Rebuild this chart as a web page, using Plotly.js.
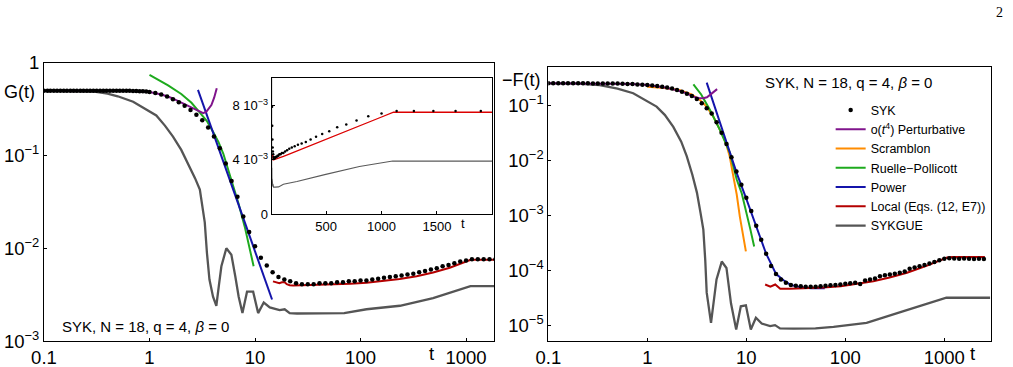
<!DOCTYPE html>
<html><head><meta charset="utf-8">
<script src="https://cdn.plot.ly/plotly-3.0.1.min.js"></script>
<style>html,body{margin:0;padding:0;background:#fff;}#chart{width:1013px;height:367px;}</style>
</head><body><div id="chart"></div>
<script>
// ---------- Left panel: G(t) ----------
const leftSykT = [0.1,0.108,0.115,0.124,0.133,0.143,0.154,0.165,0.178,0.191,0.205,0.221,0.237,0.255,0.274,0.294,0.316,0.34,0.365,0.392,0.422,0.453,0.487,0.523,0.562,0.604,0.649,0.698,0.75,0.806,0.866,0.931,1.0,1.136,1.292,1.468,1.668,1.896,2.154,2.448,2.783,3.162,3.594,4.084,4.642,5.275,5.995,6.813,7.743,8.8,10,11.36,12.92,14.68,16.68,18.96,21.54,24.48,27.83,31.62,35.94,40.84,46.42,52.75,59.95,68.13,77.43,88,100,113.6,129.2,146.8,166.8,189.6,215.4,244.8,278.3,316.2,359.4,408.4,464.2,527.5,599.5,681.3,774.3,880,1000,1136,1292,1468,1668,1896];
const leftSykG = [0.5,0.5,0.5,0.5,0.5,0.5,0.5,0.5,0.5,0.5,0.5,0.5,0.5,0.5,0.5,0.5,0.5,0.5,0.5,0.5,0.5,0.5,0.5,0.499,0.499,0.499,0.498,0.497,0.496,0.494,0.492,0.489,0.485,0.472,0.455,0.432,0.405,0.375,0.345,0.31,0.275,0.24,0.2,0.16,0.12,0.082,0.053,0.036,0.022,0.015,0.0105,0.0079,0.0065,0.0055,0.0049,0.0046,0.0044,0.0042,0.0041,0.0041,0.0041,0.0042,0.0042,0.0042,0.0043,0.0043,0.0044,0.0044,0.0045,0.0045,0.0046,0.0047,0.0048,0.0049,0.005,0.0051,0.0052,0.0053,0.0055,0.0057,0.0059,0.0061,0.0064,0.0066,0.0069,0.0072,0.0074,0.0076,0.0076,0.0076,0.0076,0.0076];

const leftPertT = [0.1,0.3,0.5,0.7,1.0,1.3,1.6,2.0,2.4,2.78,3.23,3.46,3.86,4.1,4.34];
const leftPertG = [0.5,0.5,0.499,0.496,0.485,0.455,0.42,0.37,0.336,0.31,0.286,0.297,0.35,0.42,0.53];

const leftRuelleT = [1,1.5,2,2.5,3,3.5,4,4.5,5,6,7,8,9,9.7];
const leftRuelleG = [0.74,0.57,0.46,0.37,0.29,0.235,0.18,0.14,0.105,0.055,0.03,0.017,0.0095,0.0064];

const leftPowerT = [2.88,5,10,14.5];
const leftPowerG = [0.51,0.087,0.0092,0.0028];

const leftLocalT = [14.8,16,17,18,19.1,20,21.3,23,30,50,80,114,160,235,340,487,700,900,1000,1108,1300,1600,2000];
const leftLocalG = [0.0044,0.0043,0.0042,0.0043,0.0043,0.0041,0.004,0.00398,0.004,0.00405,0.00414,0.00425,0.0044,0.00465,0.005,0.00547,0.00617,0.00682,0.00715,0.0075,0.0075,0.0075,0.0075];

const leftGueT = [0.1,0.2,0.3,0.4,0.5,0.7,0.9,1.16,1.4,1.67,2.0,2.4,2.7,3.0,3.34,3.5,3.7,4.0,4.3,4.55,4.8,5.35,5.97,6.5,7.0,7.6,8.4,9.6,10.7,12.1,13.8,15.5,17.1,19.1,21.3,25,40,70,114,236,487,800,1100,2000];
const leftGueG = [0.5,0.499,0.49,0.465,0.435,0.38,0.32,0.27,0.21,0.16,0.115,0.076,0.057,0.043,0.019,0.009,0.0046,0.003,0.0024,0.004,0.0064,0.01,0.0085,0.005,0.003,0.002,0.0034,0.0034,0.002,0.0026,0.0023,0.00222,0.00215,0.0022,0.002,0.00198,0.00198,0.002,0.0022,0.0024,0.0029,0.0035,0.0039,0.0039];

// ---------- Right panel: -F(t) ----------
const rightSykT = [0.1,0.112,0.126,0.141,0.158,0.178,0.2,0.224,0.251,0.282,0.316,0.355,0.398,0.447,0.501,0.562,0.631,0.708,0.794,0.891,1,1.122,1.259,1.413,1.585,1.778,1.995,2.239,2.512,2.818,3.162,3.548,3.981,4.467,5.012,5.623,6.31,7.079,7.943,8.913,10,11.22,12.59,14.13,15.85,17.78,19.95,22.39,25.12,28.18,31.62,35.48,39.81,44.67,50.12,56.23,63.1,70.79,79.43,89.13,100,112.2,125.9,141.3,158.5,177.8,199.5,223.9,251.2,281.8,316.2,354.8,398.1,446.7,501.2,562.3,631,707.9,794.3,891.3,1000,1122,1259,1413,1585,1778,1995,2239,2512];
const rightSykF = [0.255,0.255,0.255,0.255,0.255,0.255,0.255,0.255,0.255,0.254,0.254,0.254,0.253,0.253,0.252,0.251,0.249,0.247,0.244,0.241,0.237,0.233,0.228,0.222,0.215,0.205,0.193,0.18,0.165,0.15,0.132,0.11,0.09,0.072,0.05,0.032,0.02,0.0115,0.0063,0.0036,0.0021,0.0012,6.5e-4,3.6e-4,2.0e-4,1.2e-4,8.5e-5,6.8e-5,5.9e-5,5.4e-5,5.2e-5,5.1e-5,5.0e-5,5.0e-5,5.0e-5,5.1e-5,5.2e-5,5.3e-5,5.4e-5,5.5e-5,5.7e-5,5.8e-5,5.9e-5,5.6e-5,6.5e-5,6.8e-5,7.1e-5,7.8e-5,8.1e-5,8.4e-5,8.6e-5,9.0e-5,9.5e-5,1.06e-4,1.12e-4,1.18e-4,1.24e-4,1.32e-4,1.42e-4,1.52e-4,1.62e-4,1.66e-4,1.63e-4,1.62e-4,1.63e-4,1.62e-4,1.61e-4,1.62e-4,1.6e-4];

const rightPertT = [0.1,0.3,0.5,0.7,1,1.5,2,2.5,2.92,3.3,3.68,4.0,4.3,4.7,5.07];
const rightPertF = [0.255,0.254,0.252,0.248,0.238,0.215,0.19,0.168,0.146,0.138,0.136,0.142,0.157,0.178,0.2];

const rightScrT = [1,1.5,2.14,2.8,3.4,4,4.64,5.3,5.86,6.3,6.8,7.4,8.0,8.6,9.2,9.9];
const rightScrF = [0.22,0.21,0.19,0.16,0.127,0.095,0.063,0.04,0.027,0.019,0.0118,0.0051,0.0024,9.5e-4,4.8e-4,2.2e-4];

const rightRuelleT = [2.92,3.5,4.3,5.42,6.84,8,9,10.1,11,12];
const rightRuelleF = [0.245,0.16,0.083,0.036,0.0136,0.0045,0.0025,0.0011,5.5e-4,2.7e-4];

const rightPowerT = [3.98,5,6.3,8,10,12.6,15.85,20,24,28,35,45,62];
const rightPowerF = [0.263,0.077,0.021,0.0059,0.002,6.5e-4,2.0e-4,8.5e-5,6.5e-5,5.4e-5,4.9e-5,4.7e-5,4.7e-5];

const rightLocalT = [15.5,17.5,19.6,22,27.6,40,60,90,130,192,280,420,660,900,1070,1200,2570];
const rightLocalF = [5.5e-5,5.0e-5,5.5e-5,4.6e-5,4.6e-5,4.7e-5,4.85e-5,5.1e-5,5.6e-5,6.3e-5,7.4e-5,9.0e-5,1.2e-4,1.5e-4,1.7e-4,1.75e-4,1.75e-4];

const rightGueT = [0.1,0.2,0.33,0.5,0.72,1.0,1.24,1.5,1.83,2.2,2.5,2.85,3.17,3.45,3.68,3.85,3.98,4.4,5.0,5.65,6.3,7.0,7.9,8.8,9.9,11.1,12.5,14.3,17.4,19.5,21.9,30,50,76,164,354,660,1050,2900];
const rightGueF = [0.255,0.253,0.237,0.205,0.168,0.12,0.096,0.068,0.041,0.022,0.012,0.0055,0.0026,0.0011,5.5e-4,1.5e-4,3.9e-5,1.1e-5,6.8e-5,1.44e-4,1.1e-4,2.5e-5,8.3e-6,2.2e-5,2.3e-5,8.3e-6,1.36e-5,1.07e-5,9.6e-6,1.0e-5,8.7e-6,8.6e-6,8.7e-6,9.3e-6,1.1e-5,1.7e-5,2.45e-5,3.15e-5,3.15e-5];

// tick labels
const xLogTicks = [0.1,1,10,100,1000];
const xLogText = ['0.1','1','10','100','1000'];
const yLeftTicks = [0.001,0.01,0.1,1];
const yLeftText = ['10<sup>−3</sup>','10<sup>−2</sup>','10<sup>−1</sup>','1'];
const yRightTicks = [1e-5,1e-4,1e-3,1e-2,1e-1];
const yRightText = ['10<sup>−5</sup>','10<sup>−4</sup>','10<sup>−3</sup>','10<sup>−2</sup>','10<sup>−1</sup>'];
const insetXTicks = [500,1000,1500];
const insetYTicks = [0,0.004,0.008];
const insetYText = ['0','4 10<sup>−3</sup>','8 10<sup>−3</sup>'];

const C = {purple:'rgb(128,20,140)', orange:'rgb(255,140,0)', green:'rgb(30,170,30)', blue:'rgb(20,20,170)', red:'rgb(180,0,0)', gray:'rgb(85,85,85)'};

function line(x,y,color,w,xa,ya,name,rank,show){
  return {x:x,y:y,type:'scatter',mode:'lines',line:{color:color,width:w},xaxis:xa,yaxis:ya,name:name,legendrank:rank,showlegend:!!show,hoverinfo:'skip'};
}
function dots(x,y,size,xa,ya,show){
  return {x:x,y:y,type:'scatter',mode:'markers',marker:{color:'black',size:size},xaxis:xa,yaxis:ya,name:'SYK',legendrank:1,showlegend:!!show,hoverinfo:'skip'};
}

const traces = [
  // left
  line(leftGueT,leftGueG,C.gray,2.3,'x','y','SYKGUE',7),
  line(leftRuelleT,leftRuelleG,C.green,2,'x','y','Ruelle−Pollicott',4),
  line(leftPowerT,leftPowerG,C.blue,2,'x','y','Power',5),
  line(leftPertT,leftPertG,C.purple,2,'x','y','pert',2),
  line(leftLocalT,leftLocalG,C.red,2,'x','y','Local',6),
  dots(leftSykT,leftSykG,4.5,'x','y'),
  // inset
  line(leftGueT,leftGueG,'rgb(90,90,90)',1.1,'x3','y3','g',7),
  line(leftLocalT,leftLocalG,'rgb(220,0,0)',1.3,'x3','y3','l',6),
  dots(leftSykT,leftSykG,2.5,'x3','y3'),
  // right
  line(rightGueT,rightGueF,C.gray,2.3,'x2','y2','SYKGUE',7,true),
  line(rightScrT,rightScrF,C.orange,2,'x2','y2','Scramblon',3,true),
  line(rightRuelleT,rightRuelleF,C.green,2,'x2','y2','Ruelle−Pollicott',4,true),
  line(rightPowerT,rightPowerF,C.blue,2,'x2','y2','Power',5,true),
  line(rightPertT,rightPertF,C.purple,2,'x2','y2','o(<i>t</i><sup>4</sup>) Perturbative',2,true),
  line(rightLocalT,rightLocalF,C.red,2,'x2','y2','Local (Eqs. (12, E7))',6,true),
  dots(rightSykT,rightSykF,4.5,'x2','y2',true)
];

const F = 'Liberation Sans, Arial, sans-serif';
const axBase = {showline:true, mirror:true, linecolor:'black', linewidth:1, showgrid:false, zeroline:false, ticks:'inside', ticklen:3, tickcolor:'black', tickfont:{family:F,size:18.5,color:'black'}};

function ann(text,x,y,size,fam){
  return {text:text, xref:'paper', yref:'paper', x:x, y:y, xanchor:'center', yanchor:'middle', showarrow:false, font:{family:fam||F,size:size,color:'black'}};
}

const layout = {
  width:1013, height:367, margin:{l:0,r:0,t:0,b:0},
  paper_bgcolor:'white', plot_bgcolor:'rgba(0,0,0,0)', font:{family:F,color:'black'},
  showlegend:true,
  legend:{x:0.82, y:0.74, xanchor:'left', yanchor:'top', font:{family:F,size:12.5,color:'black'}, bgcolor:'rgba(0,0,0,0)', traceorder:'normal', itemwidth:30, tracegroupgap:0},
  xaxis:Object.assign({},axBase,{type:'log', range:[-1,3.265], domain:[0.0434,0.4877], anchor:'y', tickvals:xLogTicks, ticktext:xLogText}),
  yaxis:Object.assign({},axBase,{type:'log', range:[-3,0], domain:[0.0708,0.829], anchor:'x', tickvals:yLeftTicks, ticktext:yLeftText}),
  xaxis2:Object.assign({},axBase,{type:'log', range:[-1,3.472], domain:[0.5413,0.9783], anchor:'y2', tickvals:xLogTicks, ticktext:xLogText}),
  yaxis2:Object.assign({},axBase,{type:'log', range:[-5.29,-0.29], domain:[0.0708,0.8183], anchor:'x2', tickvals:yRightTicks, ticktext:yRightText}),
  xaxis3:Object.assign({},axBase,{range:[8,2000], domain:[0.2682,0.486], anchor:'y3', tickvals:insetXTicks, tickfont:{family:F,size:13,color:'black'}}),
  yaxis3:Object.assign({},axBase,{range:[0,0.01], domain:[0.4169,0.7866], anchor:'x3', tickvals:insetYTicks, ticktext:insetYText, tickfont:{family:F,size:13,color:'black'}}),
  annotations:[
    ann('G(t)', 0.0197, 0.749, 18),
    ann('−F(t)', 0.515, 0.782, 18),
    ann('t', 0.426, 0.038, 18.5),
    ann('t', 0.9605, 0.038, 18.5),
    ann('t', 0.457, 0.392, 13),
    ann('SYK, N = 18, q = 4, <i>β</i> = 0', 0.1441, 0.109, 15),
    ann('SYK, N = 18, q = 4, <i>β</i> = 0', 0.838, 0.7757, 15),
    ann('2', 0.987, 0.967, 14, 'Liberation Serif, serif')
  ]
};

Plotly.newPlot('chart', traces, layout, {displayModeBar:false, staticPlot:true});
</script></body></html>
